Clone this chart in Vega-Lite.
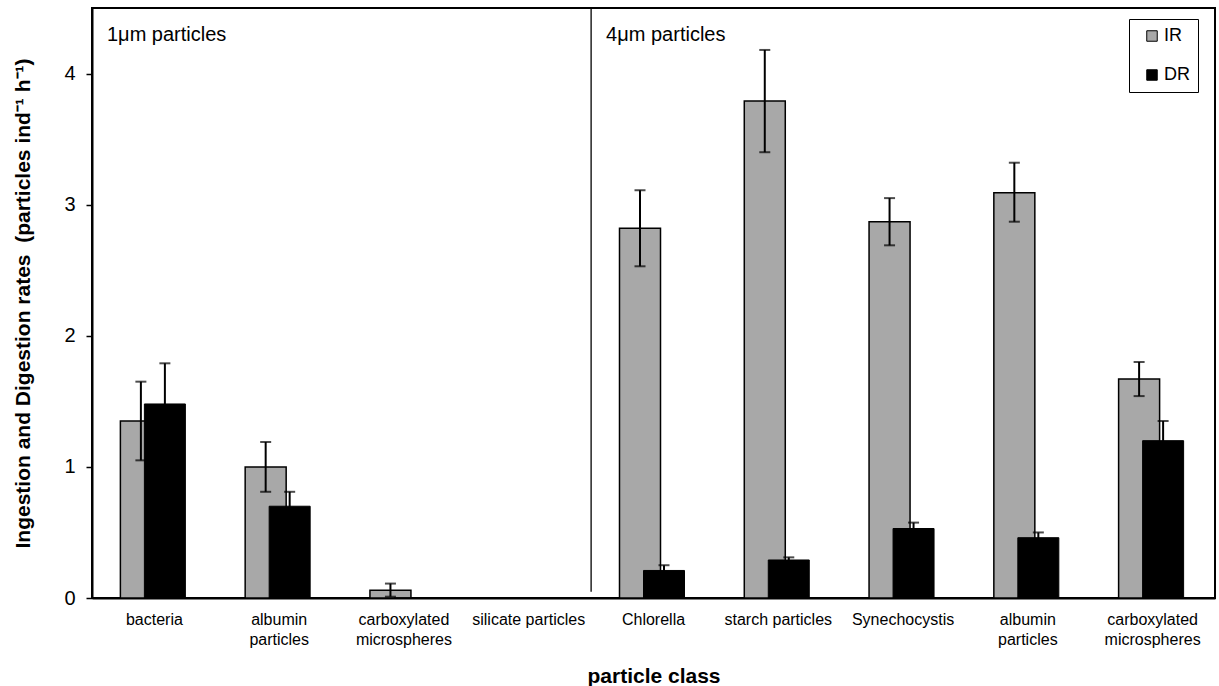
{
  "$schema": "https://vega.github.io/schema/vega-lite/v6.json",
  "width": 1123,
  "height": 590,
  "autosize": {"type": "none"},
  "padding": {"left": 92, "top": 8, "right": 4, "bottom": 88},
  "background": "white",
  "config": {
    "font": "Liberation Sans",
    "view": {"stroke": "black", "strokeWidth": 2},
    "axis": {"grid": false, "labelColor": "black", "titleColor": "black", "domainColor": "black", "tickColor": "black"},
    "legend": {
      "labelFontSize": 18, "labelColor": "black", "labelOffset": 3,
      "symbolType": "square", "symbolSize": 110, "symbolStrokeColor": "black", "symbolStrokeWidth": 1,
      "padding": 8, "rowPadding": 21, "symbolOffset": 6,
      "strokeColor": "black", "fillColor": "white"
    }
  },
  "datasets": {
    "rates": [
      {"cls": "1|bacteria", "series": "IR", "rate": 1.35, "lo": 1.05, "hi": 1.65},
      {"cls": "1|bacteria", "series": "DR", "rate": 1.48, "lo": 1.17, "hi": 1.79},
      {"cls": "1|albumin~particles", "series": "IR", "rate": 1.0, "lo": 0.81, "hi": 1.19},
      {"cls": "1|albumin~particles", "series": "DR", "rate": 0.70, "lo": 0.59, "hi": 0.81},
      {"cls": "1|carboxylated~microspheres", "series": "IR", "rate": 0.06, "lo": 0.01, "hi": 0.11},
      {"cls": "1|carboxylated~microspheres", "series": "DR", "rate": 0, "lo": null, "hi": null},
      {"cls": "1|silicate particles", "series": "IR", "rate": 0, "lo": null, "hi": null},
      {"cls": "1|silicate particles", "series": "DR", "rate": 0, "lo": null, "hi": null},
      {"cls": "4|Chlorella", "series": "IR", "rate": 2.82, "lo": 2.53, "hi": 3.11},
      {"cls": "4|Chlorella", "series": "DR", "rate": 0.21, "lo": 0.17, "hi": 0.25},
      {"cls": "4|starch particles", "series": "IR", "rate": 3.79, "lo": 3.40, "hi": 4.18},
      {"cls": "4|starch particles", "series": "DR", "rate": 0.29, "lo": 0.27, "hi": 0.31},
      {"cls": "4|Synechocystis", "series": "IR", "rate": 2.87, "lo": 2.69, "hi": 3.05},
      {"cls": "4|Synechocystis", "series": "DR", "rate": 0.53, "lo": 0.48, "hi": 0.575},
      {"cls": "4|albumin~particles", "series": "IR", "rate": 3.09, "lo": 2.87, "hi": 3.32},
      {"cls": "4|albumin~particles", "series": "DR", "rate": 0.46, "lo": 0.42, "hi": 0.50},
      {"cls": "4|carboxylated~microspheres", "series": "IR", "rate": 1.67, "lo": 1.54, "hi": 1.80},
      {"cls": "4|carboxylated~microspheres", "series": "DR", "rate": 1.20, "lo": 1.06, "hi": 1.35}
    ],
    "notes": [
      {"cls": "1|bacteria", "label": "1μm particles"},
      {"cls": "4|Chlorella", "label": "4μm particles"}
    ],
    "divider": [
      {"cls": "4|Chlorella"}
    ]
  },
  "layer": [
    {
      "data": {"name": "rates"},
      "transform": [{"filter": "datum.series === 'IR'"}],
      "mark": {"type": "bar", "width": 41, "xOffset": -13.5, "stroke": "black", "strokeWidth": 1.5},
      "encoding": {
        "x": {
          "field": "cls", "type": "nominal",
          "scale": {"domain": ["1|bacteria", "1|albumin~particles", "1|carboxylated~microspheres", "1|silicate particles", "4|Chlorella", "4|starch particles", "4|Synechocystis", "4|albumin~particles", "4|carboxylated~microspheres"], "paddingInner": 0, "paddingOuter": 0},
          "axis": {
            "title": "particle class",
            "titleFontSize": 21, "titleFontWeight": "bold", "titleY": 67, "titleBaseline": "top",
            "labelExpr": "split(split(datum.label, '|')[1], '~')",
            "labelAngle": 0, "labelFontSize": 16, "labelLineHeight": 20, "labelPadding": 13,
            "ticks": false, "domainWidth": 2, "labelLimit": 200
          }
        },
        "y": {
          "field": "rate", "type": "quantitative",
          "scale": {"domain": [0, 4.5], "nice": false},
          "axis": {
            "title": "Ingestion and Digestion rates \u00a0(particles ind⁻¹ h⁻¹)",
            "titleFontSize": 21, "titleFontWeight": "bold", "titleX": -59,
            "values": [0, 1, 2, 3, 4], "format": "d", "labelFontSize": 20, "labelPadding": 11,
            "tickSize": 6, "tickWidth": 1.5, "domainWidth": 2
          }
        },
        "fill": {
          "field": "series", "type": "nominal",
          "scale": {"domain": ["IR", "DR"], "range": ["#a8a8a8", "black"]},
          "legend": {"title": null, "orient": "none", "legendX": 1037, "legendY": 11}
        }
      }
    },
    {
      "data": {"name": "rates"},
      "transform": [{"filter": "datum.series === 'IR'"}],
      "mark": {"type": "rule", "xOffset": -13.5, "strokeWidth": 2, "color": "black"},
      "encoding": {
        "x": {"field": "cls", "type": "nominal"},
        "y": {"field": "lo", "type": "quantitative"},
        "y2": {"field": "hi"}
      }
    },
    {
      "data": {"name": "rates"},
      "transform": [{"filter": "datum.series === 'IR'"}],
      "mark": {"type": "tick", "xOffset": -13.5, "size": 11, "thickness": 2, "color": "black"},
      "encoding": {
        "x": {"field": "cls", "type": "nominal"},
        "y": {"field": "lo", "type": "quantitative"}
      }
    },
    {
      "data": {"name": "rates"},
      "transform": [{"filter": "datum.series === 'IR'"}],
      "mark": {"type": "tick", "xOffset": -13.5, "size": 11, "thickness": 2, "color": "black"},
      "encoding": {
        "x": {"field": "cls", "type": "nominal"},
        "y": {"field": "hi", "type": "quantitative"}
      }
    },
    {
      "data": {"name": "rates"},
      "transform": [{"filter": "datum.series === 'DR'"}],
      "mark": {"type": "bar", "width": 41, "xOffset": 10.5, "stroke": "black", "strokeWidth": 1},
      "encoding": {
        "x": {"field": "cls", "type": "nominal"},
        "y": {"field": "rate", "type": "quantitative"},
        "fill": {"field": "series", "type": "nominal"}
      }
    },
    {
      "data": {"name": "rates"},
      "transform": [{"filter": "datum.series === 'DR'"}],
      "mark": {"type": "rule", "xOffset": 10.5, "strokeWidth": 2, "color": "black"},
      "encoding": {
        "x": {"field": "cls", "type": "nominal"},
        "y": {"field": "lo", "type": "quantitative"},
        "y2": {"field": "hi"}
      }
    },
    {
      "data": {"name": "rates"},
      "transform": [{"filter": "datum.series === 'DR'"}],
      "mark": {"type": "tick", "xOffset": 10.5, "size": 11, "thickness": 2, "color": "black"},
      "encoding": {
        "x": {"field": "cls", "type": "nominal"},
        "y": {"field": "hi", "type": "quantitative"}
      }
    },
    {
      "data": {"name": "divider"},
      "mark": {"type": "rule", "strokeWidth": 1.3, "color": "black"},
      "encoding": {
        "x": {"field": "cls", "type": "nominal", "bandPosition": 0},
        "y": {"datum": 0.048},
        "y2": {"datum": 4.5}
      }
    },
    {
      "data": {"name": "notes"},
      "mark": {"type": "text", "align": "left", "baseline": "alphabetic", "dx": 15, "fontSize": 20, "color": "black"},
      "encoding": {
        "x": {"field": "cls", "type": "nominal", "bandPosition": 0},
        "y": {"datum": 4.245},
        "text": {"field": "label"}
      }
    }
  ]
}
